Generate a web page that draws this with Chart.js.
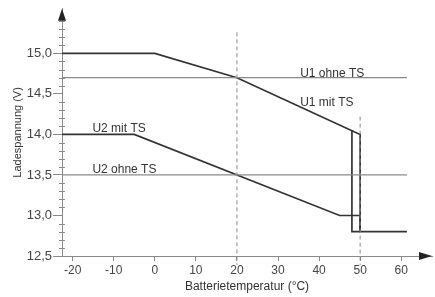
<!DOCTYPE html>
<html>
<head>
<meta charset="utf-8">
<script src="https://cdn.jsdelivr.net/npm/chart.js@4"></script>
<style>
  html, body { margin: 0; padding: 0; background: #fff; }
</style>
</head>
<body>
<canvas id="chart" width="435" height="297"></canvas>
<script>
const xMin = -22.6, xMax = 67.5, yMin = 12.5, yMax = 15.55;
const xTicks = [-20, -10, 0, 10, 20, 30, 40, 50, 60];
const yTicks = [12.5, 13.0, 13.5, 14.0, 14.5, 15.0];

// U1 / U2 charging voltage, with and without temperature sensor (TS)
const u1MitX = [xMin, 0, 20, 50, 50, 61.4];
const u1MitY = [15.0, 15.0, 14.7, 14.0, 12.8, 12.8];
const u1DropX = [48, 48, 50];
const u1DropY = [14.05, 12.8, 12.8];
const u1OhneX = [xMin, 61.4];
const u1OhneY = [14.7, 14.7];
const u2MitX = [xMin, -5, 45, 50, 50];
const u2MitY = [14.0, 14.0, 13.0, 13.0, 12.8];
const u2OhneX = [xMin, 61.4];
const u2OhneY = [13.5, 13.5];

// dashed guide lines
const guide20X = [20, 20], guide20Y = [15.26, 12.39];
const guide50X = [50, 50], guide50Y = [14.22, 12.39];

const seriesLabels = ['U1 ohne TS', 'U1 mit TS', 'U2 mit TS', 'U2 ohne TS'];
const labelX = [35.4, 35.4, -15.2, -15.2];
const labelY = [14.75, 14.39, 14.07, 13.57];

const FONT = '"Liberation Sans", Arial, sans-serif';
const dark = '#333';
const gray = '#8a8a8a';

function pts(xs, ys) {
    return xs.map((x, i) => ({ x: x, y: ys[i] }));
}

function line(xs, ys, color, width, dash) {
    return {
        data: pts(xs, ys),
        showLine: true,
        borderColor: color,
        borderWidth: width,
        borderDash: dash || [],
        pointRadius: 0,
        fill: false,
        tension: 0,
        clip: false
    };
}

const extras = {
    id: 'extras',
    afterDraw(chart) {
        const ctx = chart.ctx;
        const xs = chart.scales.x;
        const ys = chart.scales.y;
        const a = chart.chartArea;
        ctx.save();

        // minor ticks on y axis
        ctx.strokeStyle = gray;
        ctx.lineWidth = 1;
        for (let v = 125; v <= 155; v++) {
            if (v % 5 === 0) continue;
            const py = Math.round(ys.getPixelForValue(v / 10)) + 0.5;
            ctx.beginPath();
            ctx.moveTo(a.left - 3, py);
            ctx.lineTo(a.left + 3, py);
            ctx.stroke();
        }

        // arrow heads
        ctx.fillStyle = '#222';
        ctx.beginPath();
        ctx.moveTo(a.left, a.top);
        ctx.lineTo(a.left - 4, a.top + 12);
        ctx.lineTo(a.left + 4, a.top + 12);
        ctx.closePath();
        ctx.fill();
        ctx.beginPath();
        ctx.moveTo(a.right, a.bottom);
        ctx.lineTo(a.right - 13, a.bottom - 4);
        ctx.lineTo(a.right - 13, a.bottom + 4);
        ctx.closePath();
        ctx.fill();

        // series labels
        ctx.fillStyle = dark;
        ctx.font = '12px ' + FONT;
        ctx.textAlign = 'left';
        ctx.textBaseline = 'middle';
        seriesLabels.forEach((t, i) => {
            ctx.fillText(t, xs.getPixelForValue(labelX[i]), ys.getPixelForValue(labelY[i]));
        });
        ctx.restore();
    }
};

new Chart(document.getElementById('chart'), {
    type: 'scatter',
    data: {
        datasets: [
            line(guide20X, guide20Y, gray, 1, [4, 3]),
            line(guide50X, guide50Y, gray, 1, [4, 3]),
            line(u1OhneX, u1OhneY, gray, 1.2),
            line(u2OhneX, u2OhneY, gray, 1.2),
            line(u1MitX, u1MitY, dark, 1.7),
            line(u1DropX, u1DropY, dark, 1.7),
            line(u2MitX, u2MitY, dark, 1.7)
        ]
    },
    options: {
        responsive: false,
        animation: false,
        devicePixelRatio: 1,
        layout: {
            padding: { top: 3, right: 3, left: 0, bottom: 0 }
        },
        plugins: {
            legend: { display: false },
            tooltip: { enabled: false }
        },
        scales: {
            x: {
                type: 'linear',
                min: xMin,
                max: xMax,
                afterBuildTicks: function(s) {
                    s.ticks = xTicks.map(v => ({ value: v }));
                },
                afterFit: function(s) {
                    s.height = 41;
                },
                grid: {
                    drawOnChartArea: false,
                    drawTicks: true,
                    tickLength: 5,
                    color: gray
                },
                border: { color: gray, width: 1 },
                ticks: {
                    autoSkip: false,
                    maxRotation: 0,
                    padding: 2,
                    color: '#444',
                    font: { family: FONT, size: 12 }
                },
                title: {
                    display: true,
                    text: 'Batterietemperatur (°C)',
                    color: '#333',
                    font: { family: FONT, size: 12 },
                    padding: { top: 0, bottom: 3 }
                }
            },
            y: {
                type: 'linear',
                min: yMin,
                max: yMax,
                afterBuildTicks: function(s) {
                    s.ticks = yTicks.map(v => ({ value: v }));
                },
                afterFit: function(s) {
                    s.width = 62;
                },
                grid: {
                    drawOnChartArea: false,
                    drawTicks: true,
                    tickLength: 9,
                    color: gray
                },
                border: { color: gray, width: 1 },
                ticks: {
                    padding: 1,
                    color: '#444',
                    font: { family: FONT, size: 13 },
                    callback: function(v) {
                        return v.toFixed(1).replace('.', ',');
                    }
                },
                title: {
                    display: true,
                    text: 'Ladespannung (V)',
                    color: '#333',
                    font: { family: FONT, size: 11 },
                    padding: { top: 11, bottom: 0 }
                }
            }
        }
    },
    plugins: [extras]
});
</script>
</body>
</html>
